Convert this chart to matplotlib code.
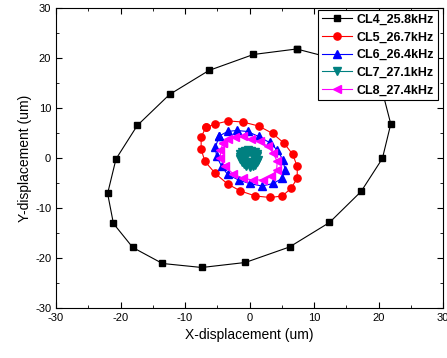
import matplotlib
matplotlib.use("Agg")
import matplotlib.pyplot as plt
from matplotlib.ticker import MultipleLocator

plt.rcParams['font.family'] = ['Liberation Sans', 'DejaVu Sans']
plt.rcParams['axes.unicode_minus'] = False

labels = ["CL4_25.8kHz", "CL5_26.7kHz", "CL6_26.4kHz", "CL7_27.1kHz", "CL8_27.4kHz"]

# CL4 orbit (two points near top right sit under the legend)
cl4_x = [7.3, 14.8, 20.4, 21.9, 20.6, 17.3, 12.4, 6.2, -0.65, -7.4, -13.5, -18.1,
         -21.1, -22.0, -20.7, -17.4, -12.4, -6.3, 0.6, 7.3]
cl4_y = [21.8, 19.3, 14.3, 6.8, -0.1, -6.7, -12.9, -17.8, -20.9, -21.9, -21.1, -17.9,
         -13.1, -7.1, -0.2, 6.5, 12.7, 17.5, 20.7, 21.8]

cl5_x = [-6.8, -5.3, -3.3, -1.05, 1.4, 3.6, 5.4, 6.7, 7.4, 7.4, 6.4, 5.1, 3.2, 0.9,
         -1.4, -3.4, -5.3, -6.9, -7.5, -7.5, -6.8]
cl5_y = [6.1, 6.8, 7.4, 7.2, 6.4, 4.9, 2.9, 0.7, -1.7, -4.1, -6.1, -7.6, -7.9, -7.6,
         -6.6, -5.2, -3.1, -0.7, 1.7, 4.1, 6.1]

cl6_x = [-4.7, -3.4, -2.0, -0.3, 1.4, 3.1, 4.3, 5.2, 5.5, 5.0, 3.7, 1.9, 0.0, -1.7,
         -3.4, -4.3, -5.1, -5.3, -4.7]
cl6_y = [4.4, 5.3, 5.5, 5.3, 4.3, 3.1, 1.6, -0.4, -2.4, -4.1, -5.1, -5.6, -5.1, -4.4,
         -3.3, -1.7, 0.3, 2.1, 4.4]

cl7_x = [1.2, 1.1, 0.8, 0.3, -0.2, -0.7, -1.1, -1.4, -1.5, -1.4, -1.2, -0.9, -0.5, 0.0,
         0.5, 0.9, 1.2, 1.3, 0.8, 0.6, 0.2, -0.3, -0.7, -0.9, -0.9, -0.7, -0.3, 0.2,
         0.6, 0.8]
cl7_y = [0.3, 0.8, 1.2, 1.4, 1.5, 1.4, 1.1, 0.7, 0.2, -0.3, -0.8, -1.2, -1.6, -1.8,
         -1.7, -1.4, -0.9, -0.4, 0.2, 0.7, 0.9, 1.0, 0.7, 0.2, -0.3, -0.8, -1.1, -1.2,
         -0.9, -0.4]

cl8_x = [-4.1, -3.3, -2.2, -1.0, 0.3, 1.6, 2.9, 3.7, 4.3, 4.2, 3.4, 2.1, 0.6, -1.0,
         -2.5, -3.8, -4.5, -4.5, -4.1]
cl8_y = [2.9, 3.7, 4.1, 4.3, 3.7, 3.3, 2.3, 0.9, -0.7, -2.4, -3.7, -4.4, -4.4, -4.1,
         -3.2, -1.7, -0.1, 1.6, 2.9]

fig = plt.figure(figsize=(4.47, 3.58), dpi=100)
ax = fig.add_axes([0.1253, 0.1397, 0.8658, 0.838])

ax.plot(cl4_x, cl4_y, color='black', marker='s', ms=4.5, lw=0.8, label=labels[0])
ax.plot(cl5_x, cl5_y, color='red', marker='o', ms=5.2, lw=0.8, label=labels[1])
ax.plot(cl6_x, cl6_y, color='blue', marker='^', ms=5.5, lw=0.8, label=labels[2])
ax.plot(cl7_x, cl7_y, color='#008080', marker='v', ms=5.5, lw=0.8, label=labels[3])
ax.plot(cl8_x, cl8_y, color='magenta', marker='<', ms=5.5, lw=0.8, label=labels[4])

ax.set_xlim(-30, 30)
ax.set_ylim(-30, 30)
ax.xaxis.set_major_locator(MultipleLocator(10))
ax.yaxis.set_major_locator(MultipleLocator(10))
ax.xaxis.set_minor_locator(MultipleLocator(5))
ax.yaxis.set_minor_locator(MultipleLocator(5))
ax.tick_params(which='both', direction='in', top=True, right=True, labelsize=8)
ax.tick_params(which='major', length=4)
ax.tick_params(which='minor', length=2.5)
for s in ax.spines.values():
    s.set_linewidth(0.8)

ax.set_xlabel("X-displacement (um)", fontsize=10, labelpad=4)
ax.set_ylabel("Y-displacement (um)", fontsize=10, labelpad=2)

leg = ax.legend(loc='upper right', bbox_to_anchor=(0.987, 0.993),
                prop={'weight': 'bold', 'size': 9},
                frameon=True, fancybox=False, edgecolor='black', framealpha=1,
                handlelength=2.4, labelspacing=0.45, borderpad=0.3, handletextpad=0.4,
                borderaxespad=0)
leg.get_frame().set_linewidth(0.8)

fig.savefig("out.png", dpi=100)
